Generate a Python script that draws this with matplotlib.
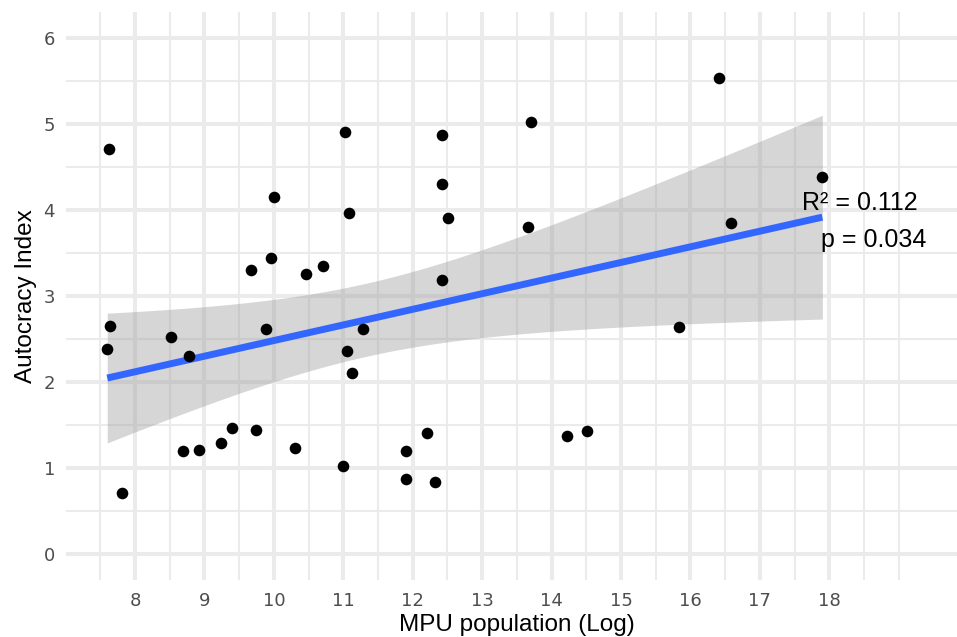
import numpy as np
import matplotlib
matplotlib.use('Agg')
import matplotlib.pyplot as plt

# MPU population (log) vs autocracy index
mpu_log = [7.63, 7.64, 7.60, 7.81, 8.52, 8.78, 8.69, 8.92, 9.24, 9.40,
           9.74, 9.67, 9.96, 10.00, 9.89, 10.31, 10.46, 10.71, 11.03, 11.08,
           11.05, 11.13, 11.00, 11.29, 12.42, 12.42, 12.51, 12.42, 12.21, 11.90,
           11.90, 12.32, 13.71, 13.66, 14.22, 14.51, 15.84, 16.41, 16.59, 17.90]
autocracy = [4.71, 2.65, 2.38, 0.71, 2.52, 2.30, 1.20, 1.21, 1.29, 1.47,
             1.44, 3.30, 3.44, 4.15, 2.62, 1.23, 3.26, 3.35, 4.91, 3.97,
             2.36, 2.10, 1.02, 2.62, 4.87, 4.30, 3.91, 3.19, 1.41, 1.20,
             0.87, 0.84, 5.02, 3.80, 1.37, 1.43, 2.64, 5.53, 3.85, 4.38]
x_breaks = list(range(8, 19))
y_breaks = list(range(0, 7))
r2_label = 'R² = 0.112'
p_label = 'p = 0.034'

x = np.array(mpu_log)
y = np.array(autocracy)

# linear fit + 95% confidence band (like geom_smooth(method='lm'))
n = len(x)
slope, intercept = np.polyfit(x, y, 1)
xs = np.linspace(x.min(), x.max(), 100)
fit = intercept + slope * xs
resid = y - (intercept + slope * x)
s_err = np.sqrt(np.sum(resid ** 2) / (n - 2))
t_crit = 2.024  # t(0.975, df=38)
se = s_err * np.sqrt(1 / n + (xs - x.mean()) ** 2 / np.sum((x - x.mean()) ** 2))

W, H = 957, 637
fig = plt.figure(figsize=(W / 100, H / 100), dpi=100)
ax = fig.add_axes([66 / W, (H - 580) / H, (W - 66) / W, (580 - 12) / H])
plt.rcParams['font.family'] = 'Liberation Sans'

ax.set_xlim(7.006, 19.84)
ax.set_ylim(-0.3, 6.3)

# grid like theme_minimal
grid_col = '#EBEBEB'
for v in np.arange(7.5, 19.01, 0.5):
    if v not in x_breaks:
        ax.axvline(v, color=grid_col, lw=1.5, zorder=0)
for v in x_breaks:
    ax.axvline(v, color=grid_col, lw=2.9, zorder=0)
for v in np.arange(0.5, 6, 1.0):
    ax.axhline(v, color=grid_col, lw=1.5, zorder=0)
for v in y_breaks:
    ax.axhline(v, color=grid_col, lw=2.9, zorder=0)

ax.fill_between(xs, fit - t_crit * se, fit + t_crit * se, color='#999999', alpha=0.4, lw=0, zorder=1)
ax.plot(xs, fit, color='#3366FF', lw=5, zorder=2, solid_capstyle='butt')
ax.scatter(x, y, s=70, color='black', zorder=3, linewidths=0)

ax.text(18.44, 4.08, r2_label, ha='center', va='center', fontsize=18, color='black')
ax.text(18.64, 3.65, p_label, ha='center', va='center', fontsize=18, color='black')

ax.set_xticks(x_breaks)
ax.set_yticks(y_breaks)
ax.tick_params(length=0, labelsize=13, labelcolor='#4D4D4D')
ax.tick_params(axis='x', pad=9)
ax.tick_params(axis='y', pad=8)
for sp in ax.spines.values():
    sp.set_visible(False)

fig.text(517 / W, (H - 631) / H, 'MPU population (Log)', ha='center', va='baseline', fontsize=17.5)
fig.text(26 / W, (H - 296) / H, 'Autocracy Index', ha='center', va='center', rotation=90, fontsize=17.5)

fig.savefig('out.png', dpi=100)
